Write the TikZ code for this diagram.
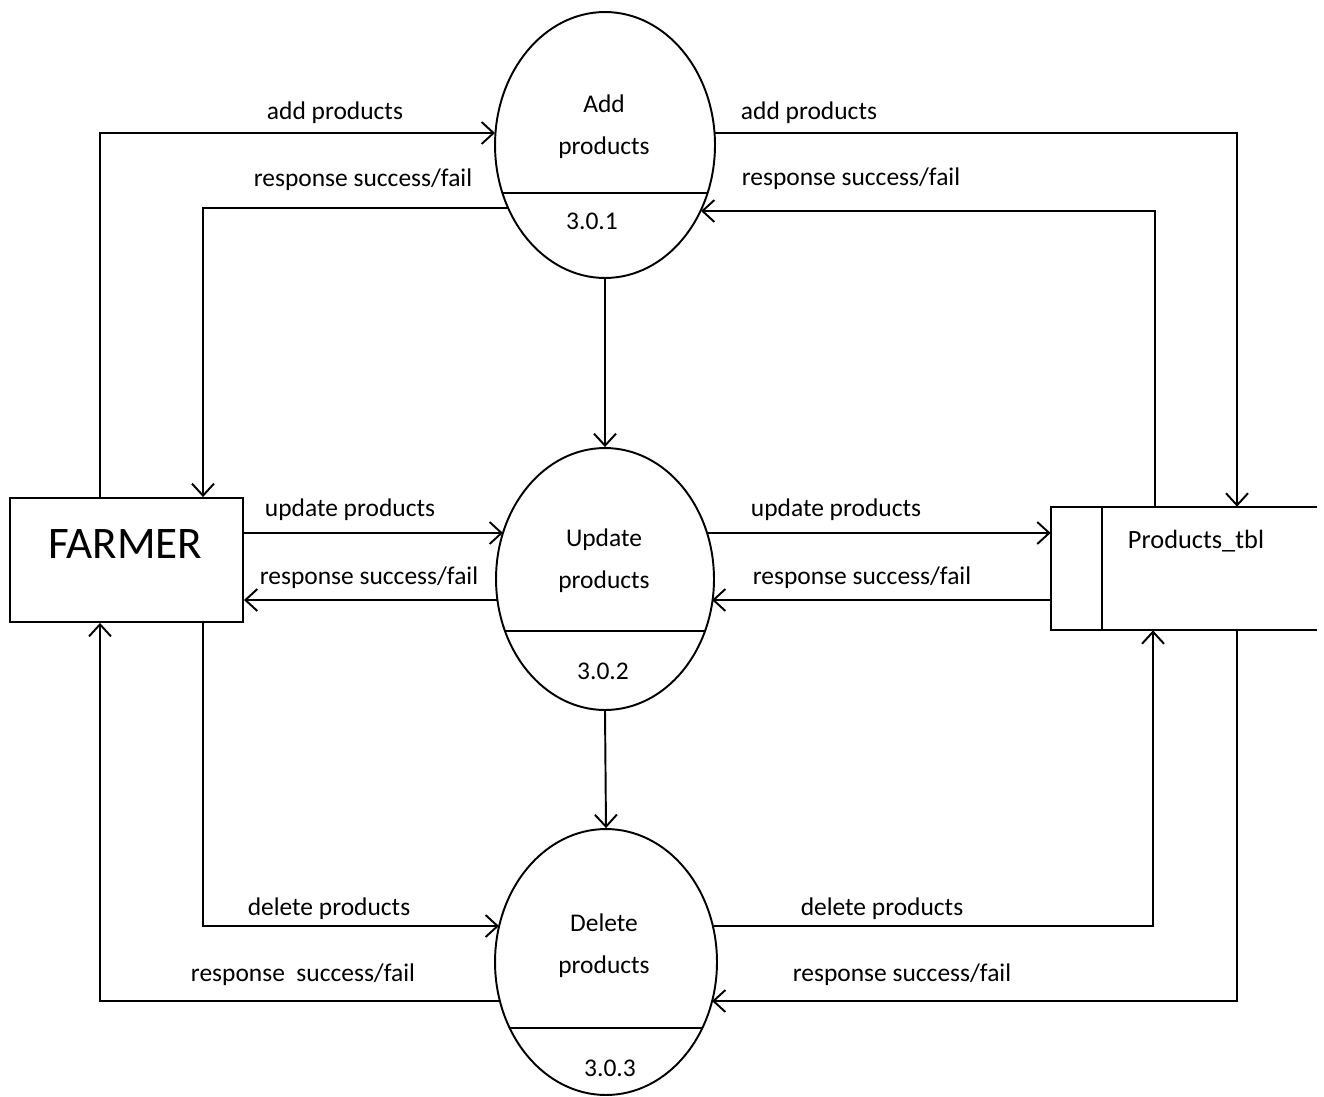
\documentclass[tikz,border=0pt]{standalone}
\usepackage{fontspec}
\setmainfont{Carlito}
\usetikzlibrary{shapes.geometric,arrows.meta,positioning,calc}

\begin{document}
\begin{tikzpicture}[
    x=0.02cm, y=-0.02cm,
    every node/.style={font=\fontsize{14.5}{17}\selectfont, align=center, inner sep=0pt},
    procNode/.style={ellipse, draw=black, line width=1.1pt, minimum width=4.4cm, minimum height=5.32cm},
    entityNode/.style={rectangle, draw=black, line width=1.1pt, minimum width=4.66cm, minimum height=2.48cm},
    storeNode/.style={rectangle, minimum width=5.32cm, minimum height=2.46cm},
    procText/.style={font=\fontsize{14.5}{23.8}\selectfont},
    flowLabel/.style={font=\fontsize{14.5}{17}\selectfont},
    connArrow/.style={-{Straight Barb[length=2.4mm, width=4.4mm]}, line width=1.1pt, draw=black}
]
\useasboundingbox (0,0) rectangle (1324,1096);

% Nodes
\node (farmer) [entityNode] at (126.5,560) {};
\node (farmerTxt) [font=\fontsize{25.7}{30}\selectfont] at (125.5,544.5) {FARMER};

\node (add) [procNode] at (605,145) {};
\node (addTxt) [procText] at (604,127) {Add\\products};
\node (addNum) at (592,221) {3.0.1};
\draw [line width=1.1pt] ($(add.center)+(-102.5,48)$) -- ($(add.center)+(102.5,48)$);

\node (update) [procNode, minimum width=4.36cm, minimum height=5.24cm] at (605,579) {};
\node (updateTxt) [procText] at (604,561) {Update\\products};
\node (updateNum) at (603,671) {3.0.2};
\draw [line width=1.1pt] ($(update.center)+(-100,52)$) -- ($(update.center)+(100,52)$);

\node (delete) [procNode, minimum width=4.44cm] at (606,962) {};
\node (deleteTxt) [procText] at (604,945.5) {Delete\\products};
\node (deleteNum) at (610,1068) {3.0.3};
\draw [line width=1.1pt] ($(delete.center)+(-96.5,66)$) -- ($(delete.center)+(96.5,66)$);

\node (tbl) [storeNode] at (1184,568.5) {};
\node (tblTxt) [font=\fontsize{15}{18}\selectfont] at (1196,541) {Products\_tbl};
\draw [line width=1.1pt] (tbl.north east) -- (tbl.north west) -- (tbl.south west) -- (tbl.south east);
\draw [line width=1.1pt] ($(tbl.north west)+(51,0)$) -- ($(tbl.south west)+(51,0)$);

% Connectors
\draw [connArrow] ($(farmer.north)+(-26.5,0)$) |- ($(add.center)+(-110,-12)$);
\draw [connArrow] ($(add.center)+(-97,63)$) -| ($(farmer.north)+(76.5,0)$);
\draw [connArrow] ($(add.center)+(110,-12)$) -| ($(tbl.north)+(53,0)$);
\draw [connArrow] ($(tbl.north)+(-29,0)$) |- ($(add.center)+(96,66)$);
\draw [connArrow] (add.south) -- (update.north);

\draw [connArrow] ($(farmer.east)+(0,-27)$) -- ($(update.center)+(-102,-46)$);
\draw [connArrow] ($(update.center)+(-107,21)$) -- ($(farmer.east)+(0,40)$);
\draw [connArrow] ($(update.center)+(102,-46)$) -- ($(tbl.west)+(0,-35.5)$);
\draw [connArrow] ($(tbl.west)+(0,31.5)$) -- ($(update.center)+(107,21)$);
\draw [connArrow] (update.south) -- (delete.north);

\draw [connArrow] ($(farmer.south)+(76.5,0)$) |- ($(delete.center)+(-107,-36)$);
\draw [connArrow] ($(delete.center)+(-106,39)$) -| ($(farmer.south)+(-26.5,0)$);
\draw [connArrow] ($(delete.center)+(107,-36)$) -| ($(tbl.south)+(-31,0)$);
\draw [connArrow] ($(tbl.south)+(53,0)$) |- ($(delete.center)+(106,39)$);

% Flow labels
\node (lAddIn) [flowLabel] at (335,113) {add products};
\node (lAddBack) [flowLabel] at (363,180) {response success/fail};
\node (lAddOut) [flowLabel] at (809,113) {add products};
\node (lAddRes) [flowLabel] at (851,179) {response success/fail};
\node (lUpdIn) [flowLabel] at (350,510) {update products};
\node (lUpdBack) [flowLabel] at (369,578) {response success/fail};
\node (lUpdOut) [flowLabel] at (836,510) {update products};
\node (lUpdRes) [flowLabel] at (862,578) {response success/fail};
\node (lDelIn) [flowLabel] at (329,909) {delete products};
\node (lDelBack) [flowLabel] at (303,975) {response\ \ success/fail};
\node (lDelOut) [flowLabel] at (882,909) {delete products};
\node (lDelRes) [flowLabel] at (902,975) {response success/fail};

\end{tikzpicture}
\end{document}
